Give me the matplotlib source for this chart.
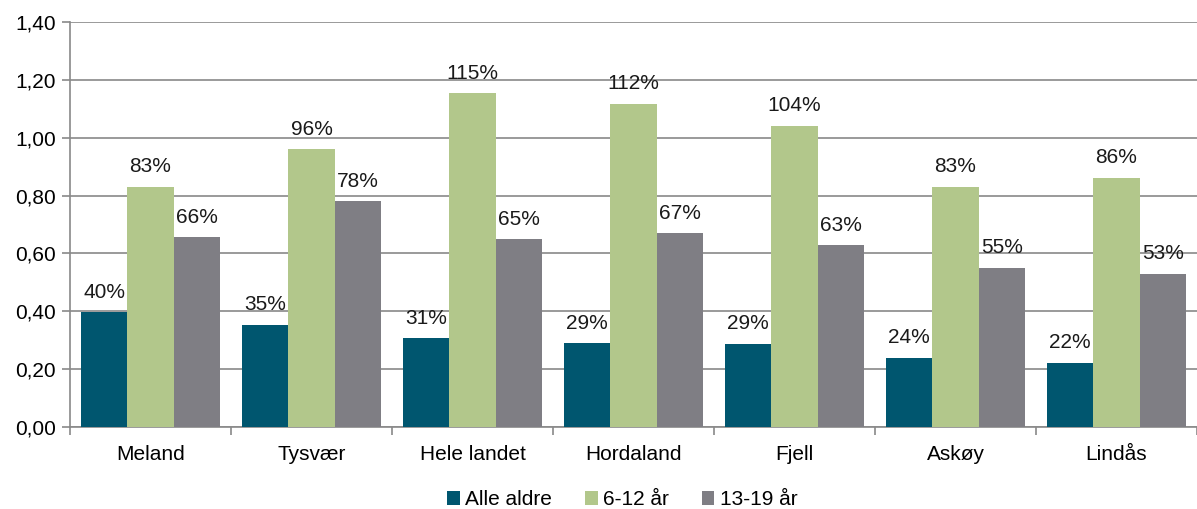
import matplotlib.pyplot as plt
import numpy as np

plt.rcParams['font.family'] = ['Liberation Sans', 'DejaVu Sans']

kommuner = ['Meland', 'Tysvær', 'Hele landet', 'Hordaland', 'Fjell', 'Askøy', 'Lindås']
alle_aldre = [0.397, 0.353, 0.306, 0.290, 0.288, 0.239, 0.222]
barn_6_12 = [0.830, 0.961, 1.153, 1.117, 1.041, 0.830, 0.862]
ungdom_13_19 = [0.657, 0.781, 0.650, 0.670, 0.628, 0.550, 0.530]
serier = ['Alle aldre', '6-12 år', '13-19 år']
farger = ['#00566F', '#B2C78B', '#7F7E84']

fig = plt.figure(figsize=(11.97, 5.09), dpi=100)
ax = fig.add_axes([70 / 1197, 82 / 509, 1127 / 1197, 405 / 509])

x = np.arange(len(kommuner))
w = 0.287
fs = 15
for i, (verdier, navn, farge) in enumerate(zip([alle_aldre, barn_6_12, ungdom_13_19], serier, farger)):
    pos = x + (i - 1) * w
    ax.bar(pos, verdier, width=w, color=farge, label=navn, zorder=3)
    for px, v in zip(pos, verdier):
        ax.annotate(f'{round(v * 100):.0f}%', (px, v), xytext=(0, 7.5), textcoords='offset points',
                    ha='center', va='bottom', fontsize=fs, color='#1a1a1a')

ax.set_xlim(-0.5, len(kommuner) - 0.5)
ax.set_ylim(0, 1.40)
yt = np.arange(0, 1.41, 0.2)
ax.set_yticks(yt)
ax.set_yticklabels([f'{v:.2f}'.replace('.', ',') for v in yt], fontsize=fs)
ax.set_xticks(x)
ax.set_xticklabels(kommuner, fontsize=fs)
ax.set_xticks(np.arange(-0.5, len(kommuner)), minor=True)
ax.tick_params(axis='x', which='major', length=0, pad=13)
ax.tick_params(axis='x', which='minor', length=6, color='#898989', width=1.2)
ax.tick_params(axis='y', length=6, color='#898989', width=1.2, pad=4)

ax.grid(axis='y', color='#898989', linewidth=1.2, zorder=0)
for s in ['top', 'right']:
    ax.spines[s].set_visible(False)
for s in ['left', 'bottom']:
    ax.spines[s].set_color('#898989')
    ax.spines[s].set_linewidth(1.2)

ax.legend(loc='center', bbox_to_anchor=(0.49, -0.18), ncol=3, frameon=False,
          fontsize=fs, handlelength=0.6, handleheight=0.6, handletextpad=0.25, columnspacing=1.6)

fig.savefig('out.png', dpi=100)
